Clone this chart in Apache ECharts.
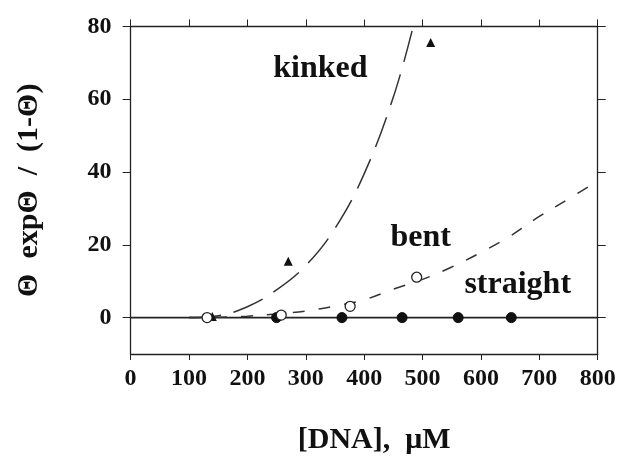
<!DOCTYPE html>
<html>
<head>
<meta charset="utf-8">
<script src="https://cdn.jsdelivr.net/npm/echarts@6/dist/echarts.min.js"></script>
<style>
html,body{margin:0;padding:0;background:#fff;}
#c{width:620px;height:460px;}
</style>
</head>
<body>
<div id="c"></div>
<script>
// ---- data ----
const xTickValues = [0, 100, 200, 300, 400, 500, 600, 700, 800];
const yTickValues = [0, 20, 40, 60, 80];

// measured points
const kinkedX = [140, 270, 514];
const kinkedY = [0.3, 15.5, 75.6];
const bentX = [131, 258, 376, 490];
const bentY = [0, 0.7, 3.1, 11.1];
const straightX = [250, 362, 465, 561, 652];
const straightY = [0, 0, 0, 0, 0];

// fitted curves
const kinkedFitX = [100, 150, 200, 250, 300, 350, 400, 450, 484];
const kinkedFitY = [0, 0.5, 3, 7.6, 14.3, 24.5, 39.5, 60.6, 80];
const bentFitX = [100, 150, 200, 250, 300, 350, 400, 450, 500, 550, 600, 650, 700, 750, 800];
const bentFitY = [0, 0.1, 0.4, 1, 1.8, 3.2, 4.9, 7.8, 10.5, 13.9, 17.9, 22.4, 27.8, 32.6, 37.5];
const straightFitX = [0, 800];
const straightFitY = [0, 0];

const seriesNames = ['kinked', 'bent', 'straight'];
// annotation anchors (data coords)
const labelAnchors = [[325, 68.5], [497, 22], [663, 9]];

const zip = (a, b) => a.map((v, i) => [v, b[i]]);

const serif = '"Liberation Serif", "Times New Roman", serif';
const ink = '#111';
const axisStyle = { onZero: false, lineStyle: { color: '#222', width: 1.3 } };

const chart = echarts.init(document.getElementById('c'), null, { renderer: 'canvas' });
chart.setOption({
  animation: false,
  backgroundColor: '#fff',
  grid: { left: 130.6, right: 22.3, top: 26.5, bottom: 99.6 },
  xAxis: [
    {
      type: 'value', min: 0, max: 800, interval: 100, position: 'bottom',
      name: '[DNA],  μM', nameLocation: 'middle', nameGap: 71,
      nameTextStyle: { fontFamily: serif, fontWeight: 'bold', fontSize: 30, color: ink, padding: [0, 0, 0, 20] },
      axisLine: axisStyle,
      axisTick: { show: true, length: 6, inside: false, lineStyle: { color: '#222', width: 1 } },
      axisLabel: { margin: 13, fontFamily: serif, fontWeight: 'bold', fontSize: 24, color: ink,
        customValues: xTickValues },
      splitLine: { show: false }
    },
    {
      type: 'value', min: 0, max: 800, interval: 100, position: 'top',
      axisLine: axisStyle,
      axisTick: { show: true, length: 7, inside: false, lineStyle: { color: '#222', width: 1 } },
      axisLabel: { show: false },
      splitLine: { show: false }
    }
  ],
  yAxis: [
    {
      type: 'value', min: -10, max: 80, position: 'left',
      name: 'Θ  expΘ  /  (1-Θ)', nameLocation: 'middle', nameGap: 86, nameRotate: 90,
      nameTextStyle: { fontFamily: serif, fontWeight: 'bold', fontSize: 30, color: ink, padding: [0, 0, 0, 0] },
      axisLine: axisStyle,
      axisTick: { show: true, length: 8, inside: false, customValues: yTickValues, lineStyle: { color: '#222', width: 1 } },
      axisLabel: { margin: 19, fontFamily: serif, fontWeight: 'bold', fontSize: 24, color: ink,
        customValues: yTickValues },
      splitLine: { show: false }
    },
    {
      type: 'value', min: -10, max: 80, position: 'right',
      axisLine: axisStyle,
      axisTick: { show: true, length: 8, inside: false, customValues: yTickValues, lineStyle: { color: '#222', width: 1 } },
      axisLabel: { show: false },
      splitLine: { show: false }
    }
  ],
  series: [
    {
      name: 'straight fit', type: 'line', data: zip(straightFitX, straightFitY),
      showSymbol: false, symbol: 'none',
      lineStyle: { color: '#222', width: 1.6, type: 'solid' }, z: 2
    },
    {
      name: 'bent fit', type: 'line', data: zip(bentFitX, bentFitY), smooth: 0.4,
      symbol: 'none', clip: true,
      lineStyle: { color: '#333', width: 1.5, type: [12, 14] }, z: 2
    },
    {
      name: 'kinked fit', type: 'line', data: zip(kinkedFitX, kinkedFitY), smooth: 0.4,
      symbol: 'none', clip: true,
      lineStyle: { color: '#333', width: 1.5, type: [32, 13] }, z: 2
    },
    {
      name: 'straight', type: 'scatter', data: zip(straightX, straightY),
      symbol: 'circle', symbolSize: 10,
      itemStyle: { color: ink, borderColor: ink, borderWidth: 1, opacity: 1 }, z: 5
    },
    {
      name: 'bent', type: 'scatter', data: zip(bentX, bentY),
      symbol: 'circle', symbolSize: 10,
      itemStyle: { color: '#fff', borderColor: '#222', borderWidth: 1.3, opacity: 1 }, z: 6
    },
    {
      name: 'kinked', type: 'scatter', data: zip(kinkedX, kinkedY),
      symbol: 'triangle', symbolSize: 9,
      itemStyle: { color: ink, opacity: 1 }, z: 5
    },
    {
      name: 'labels', type: 'scatter', data: labelAnchors.map((p, i) => ({ value: p, name: seriesNames[i] })),
      symbolSize: 0, silent: true, itemStyle: { opacity: 1 },
      label: { show: true, position: 'inside', formatter: p => p.name,
        fontFamily: serif, fontWeight: 'bold', fontSize: 32, color: ink },
      z: 7
    }
  ]
});
</script>
</body>
</html>
